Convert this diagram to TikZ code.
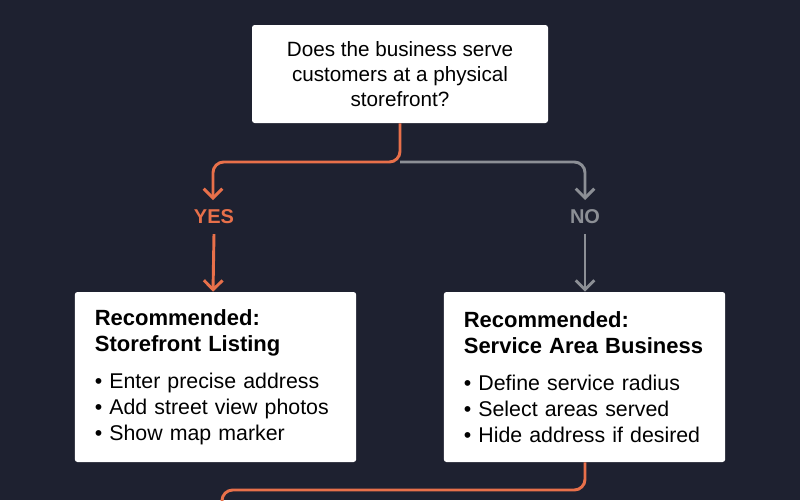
\documentclass[tikz,border=0pt]{standalone}
\usepackage{fontspec}
\setmainfont{Liberation Sans}
\usetikzlibrary{positioning, calc, arrows}

\definecolor{bgdark}{HTML}{1E2130}
\definecolor{yescol}{HTML}{E8704A}
\definecolor{nocol}{HTML}{8C8F95}

\tikzset{
	box/.style={rectangle, fill=white, rounded corners=2pt, align=left},
	flow/.style={line width=2.2pt, rounded corners=8pt},
	tip/.style={-{Straight Barb[length=7pt, width=14pt]}},
}
\usetikzlibrary{arrows.meta}

\begin{document}
\begin{tikzpicture}[x=0.75pt, y=-0.75pt]
			\fill[bgdark] (0, 0) rectangle (800, 500);
			\useasboundingbox (0, 0) rectangle (800, 500);
			
			\node[box, minimum width=222pt, minimum height=73.5pt, align=center, font=\fontsize{15.5}{18.5}\selectfont] (Q) at (400, 74) {Does the business serve\\customers at a physical\\storefront?};
			
			\node[box, minimum width=211pt, minimum height=127.5pt, text width=181pt, font=\fontsize{16}{19.5}\selectfont] (SF) at (215.5, 377) {{\fontsize{16.5}{19}\selectfont\bfseries Recommended:\\Storefront Listing}\\[8pt]
	\textbullet\ Enter precise address\\ \textbullet\ Add street view photos\\ \textbullet\ Show map marker};
			\node[box, minimum width=211pt, minimum height=127.5pt, text width=181pt, font=\fontsize{16}{19.5}\selectfont] (SA) at (584.5, 377) {{\fontsize{16.5}{19}\selectfont\bfseries Recommended:\\Service Area Business}\\[8pt]
	\textbullet\ Define service radius\\ \textbullet\ Select areas served\\ \textbullet\ Hide address if desired};
			
			\node[text=yescol, font=\fontsize{15}{16}\selectfont\bfseries] (YES) at (214, 217) {YES};
			\node[text=nocol, font=\fontsize{15}{16}\selectfont\bfseries] (NO) at (585, 217) {NO};
			
			\coordinate (split) at (400, 162);
			\coordinate (Y1) at (213, 200);
			\coordinate (N1) at (585, 200);
			\coordinate (out) at (222, 520);
			
			\draw[flow, nocol, tip] (split) -| (N1);
			\draw[flow, yescol, tip] (Q.south) -- (split) -| (Y1);
			\draw[flow, nocol, tip] (NO.south) ++(0, -4pt) -- (SA.north -| NO);
			\draw[flow, yescol, tip] (YES.south) ++(0, -4pt) -- (SF.north -| Y1);
			\draw[flow, yescol] (SA.south -| NO) |- ($(out) + (0, -30)$) -- (out);
		\end{tikzpicture}
\end{document}
